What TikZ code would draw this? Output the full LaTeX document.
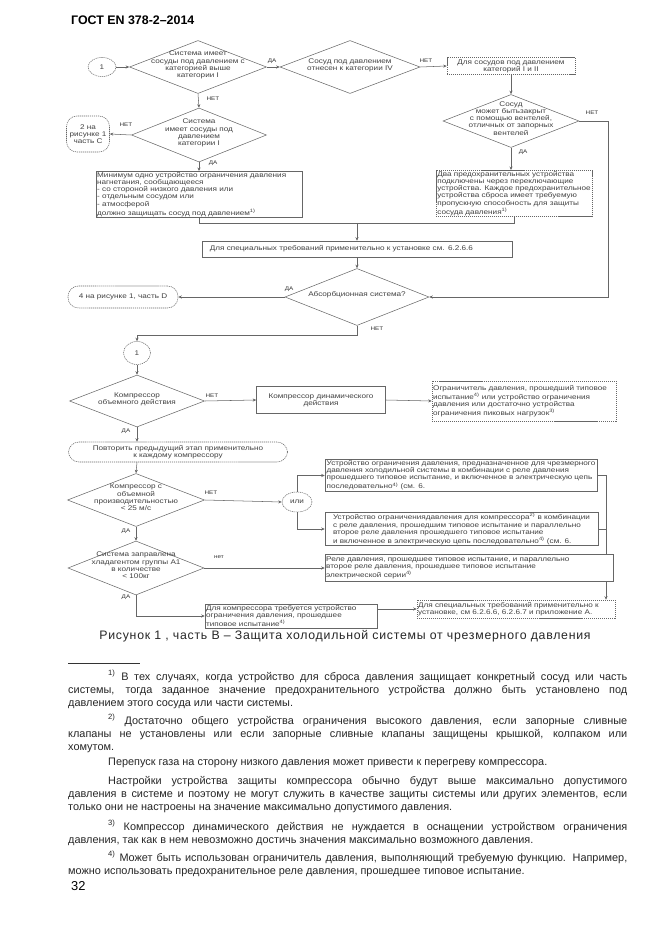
\documentclass[tikz,border=0pt]{standalone}
\usepackage{fontspec}
\setmainfont{Liberation Sans}
\newfontfamily\flowfam[FakeStretch=1.2]{Liberation Sans}
\newcommand\flowfont{\flowfam\fontsize{5.8}{6.1}\selectfont}
\newcommand\yesnofont{\flowfam\fontsize{4.5}{5}\selectfont}
\newcommand\notefont{\fontsize{9.3}{11.1}\selectfont\spaceskip=0.278em plus 0.5em minus 0.12em}
\newcommand\dtxt[1]{\smash{\makebox[0pt]{\begin{tabular}{@{}c@{}}#1\end{tabular}}}}
\usetikzlibrary{shapes.geometric,arrows.meta}

\tikzset{
  >={Stealth[length=3pt,width=2.6pt]},
  fl/.style={draw=black!60, line width=0.45pt, text=black!75, font=\flowfont},
  dsh/.style={dash pattern=on 1pt off 0.7pt},
  dia/.style 2 args={fl, diamond, aspect=2.55, inner sep=0pt, minimum width=#1*0.03cm, minimum height=#2*0.03cm},
  box/.style 2 args={fl, rectangle, inner sep=1pt, minimum width=#1*0.03cm, minimum height=#2*0.03cm, align=center},
  lbox/.style 2 args={box={#1}{#2}, align=left},
  tbox/.style 2 args={box={#1}{#2}, text width=#1*0.03cm-2pt, align=left},
  oval/.style 2 args={fl, dsh, ellipse, inner sep=0pt, minimum width=#1*0.03cm, minimum height=#2*0.03cm, align=center},
  term/.style 2 args={fl, dsh, rectangle, rounded corners=6pt, inner sep=1pt, minimum width=#1*0.03cm, minimum height=#2*0.03cm, align=center},
  con/.style={draw=black!60, line width=0.45pt, ->},
  yn/.style={font=\yesnofont, text=black!80, inner sep=0pt},
  fnote/.style={anchor=north west, inner sep=0pt, text width=16.77cm, align=justify, font=\notefont, text=black!85},
}

\begin{document}
\begin{tikzpicture}[x=0.03cm,y=-0.03cm]
\useasboundingbox (0,0) rectangle (661,935);
\node[anchor=west, font=\bfseries\fontsize{10.6}{12}\selectfont] (head) at (67,20) {ГОСТ EN 378-2–2014};

% upper part: vessels
\node[oval={28}{19}] (t1) at (102,67) {1};
\node[dia={137}{53}] (d1) at (198,67) {\dtxt{Система имеет\\сосуды под давлением с\\категорией выше\\категории I}};
\node[dia={140}{53}] (d2) at (350,67) {\dtxt{Сосуд под давлением\\отнесен к категории IV}};
\node[box={128}{17}, dsh] (b1) at (511,66) {Для сосудов под давлением\\категорий I и II};
\node[dia={136}{53}] (d3) at (511,121) {\dtxt{Сосуд\\может бытьзакрыт\\с помощью вентелей,\\отличных от запорных\\вентелей}};
\node[dia={135}{54}] (d4) at (199,135) {\dtxt{Система\\имеет сосуды под\\давлением\\категории I}};
\node[term={43}{36}, rounded corners=9pt] (t2) at (88,134) {2 на\\рисунке 1\\часть С};
\node[tbox={206}{41}] (b2) at (199,194.5) {Минимум одно устройство ограничения давления\\нагнетания, сообщающееся\\- со стороной низкого давления  или\\- отдельным сосудом  или\\- атмосферой\\должно защищать сосуд под  давлением\textsuperscript{1)}};
\node[lbox={156}{39}, dsh] (b4) at (514,193.5) {Два предохранительных устройства\\подключены через переключающие\\устройства. Каждое предохранительное\\устройства сброса имеет требуемую\\пропускную способность для защиты\\сосуда давления\textsuperscript{1)}};
\coordinate (jn) at (357,223);
\coordinate (rl1) at (608,200);
\node[tbox={310}{16}] (b3) at (357,249) {\hspace*{0.2cm}Для специальных требований применительно к установке  см. 6.2.6.6};
\node[dia={144}{57}] (d5) at (357,297) {\dtxt{Абсорбционная система?}};
\node[term={110}{22}, rounded corners=9pt] (t4) at (123,297) {4 на рисунке 1, часть D};

\draw[con] (t1) -- (d1.west);
\draw[con] (d1.east) -- (d2.west);
\draw[con] (d2.east) -- (b1.west);
\draw[con] (b1) -- (d3.north);
\draw[con] (d3.east) -- (d3.east -| rl1) |- (d5.east);
\draw[con] (d1.south) -- (d4.north);
\draw[con] (d4.west) -- (t2.east);
\draw[con] (d4.south) -- (b2.north);
\draw[con] (d3.south) -- (d3.south |- b4.north);
\draw[black!60] (b2.south) |- (jn);
\draw[black!60] (b4.south) |- (jn);
\draw[con] (jn) -- (b3.north);
\draw[con] (b3.south) -- (d5.north);
\draw[con] (d5.west) -- (t4.east);

\node[yn] (y1) at (272,61) {ДА};
\node[yn] (n1) at (426,61) {НЕТ};
\node[yn] (n2) at (213,99) {НЕТ};
\node[yn] (n3) at (126,125) {НЕТ};
\node[yn] (y2) at (213,163) {ДА};
\node[yn] (n4) at (592,113) {НЕТ};
\node[yn] (y3) at (523,152) {ДА};
\node[yn] (y4) at (289,289) {ДА};
\node[yn] (n5) at (377,329) {НЕТ};

% lower part: compressors
\node[oval={27}{23}] (c1) at (137,353) {1};
\node[dia={135}{52}] (d6) at (137,401) {\dtxt{Компрессор\\объемного  действия}};
\node[box={129}{27}] (b5) at (321,400) {Компрессор динамического\\действия};
\node[tbox={184}{40}, dsh] (b6) at (524,401) {Ограничитель давления, прошедший типовое\\испытание\textsuperscript{4)} или устройство ограничения\\давления или достаточно устройства\\ограничения пиковых нагрузок\textsuperscript{3)}};
\node[term={219}{20}, rounded corners=9pt] (b7) at (178,452) {Повторить предыдущий этап применительно\\к каждому компрессору};
\node[dia={137}{53}] (d7) at (136,500) {\dtxt{Компрессор с\\объемной\\производительностью\\< 25 м/с}};
\node[oval={30}{20}] (or) at (297,502) {или};
\node[lbox={272}{27}] (b8) at (461,475.5) {Устройство ограничения давления, предназначенное для чрезмерного\\давления холодильной системы в комбинации с реле давления\\прошедшего типовое испытание, и включенное в электрическую цепь\\последовательно\textsuperscript{4)}  (см. 6.};
\node[lbox={273}{28}] (b9) at (461.5,529) {Устройство ограничениядавления для компрессора\textsuperscript{2)} в комбинации\\с реле давления,  прошедшим типовое испытание  и параллельно\\второе реле давления прошедшего типовое испытание\\и включенное в электрическую цепь последовательно\textsuperscript{4)}  (см. 6.};
\node[tbox={198}{18}, dsh] (b12) at (516,609) {Для специальных требований применительно к\\установке, см 6.2.6.6, 6.2.6.7 и приложение А.};
\coordinate (rl2) at (606,540);
\draw[con] (b8.east) -- (b8.east -| rl2) -- (rl2 |- b12.north);
\draw[black!60] (b9.east) -- (b9.east -| rl2);
\node[dia={136}{54}] (d8) at (136,568) {\dtxt{Система заправлена\\хладагентом группы А1\\в количестве\\< 100кг}};
\node[tbox={288}{27}, fill=white] (b10) at (469,568) {Реле давления, прошедшее типовое  испытание, и параллельно\\второе реле давления, прошедшее типовое испытание\\электрической серии\textsuperscript{4)}};
\node[tbox={172}{24}] (b11) at (291,616) {Для компрессора требуется устройство\\ограничения давления, прошедшее\\типовое испытание\textsuperscript{4)}};

\draw[con] (d5.south) -- ++(0,9) -| (c1.north);
\draw[con] (c1.south) -- (d6.north);
\draw[con] (d6.east) -- (b5.west);
\draw[con] (b5.east) -- (b6.west);
\draw[con] (d6.south) -- (d6.south |- b7.north);
\draw[con] (d6.south |- b7.south) -- (d7.north);
\draw[con] (d7.east) -- (or.west);
\draw[con] (or.north) |- (b8.west);
\draw[con] (or.south) |- (b9.west);
\draw[con] (d7.south) -- (d8.north);
\draw[con] (d8.east) -- (b10.west);
\draw[con] (d8.south) |- (b11.west);
\draw[con] (b11.east |- b12.west) -- (b12.west);

\node[yn] (n6) at (212,396) {НЕТ};
\node[yn] (y5) at (126,431) {ДА};
\node[yn] (n7) at (211,493) {НЕТ};
\node[yn] (y6) at (126,531) {ДА};
\node[yn] (n8) at (219,557) {нет};
\node[yn] (y7) at (126,597) {ДА};

% caption and notes
\node[font=\fontsize{10.5}{12}\selectfont\addfontfeatures{LetterSpace=6}, text=black!85] (cap) at (345,636) {Рисунок 1 , часть В – Защита холодильной системы от чрезмерного давления};
\draw[black!80] (68,663) -- (140,663);
\node[fnote] (fn1) at (68,670) {\hspace*{1.2cm}\textsuperscript{1)} В тех случаях, когда устройство для сброса давления защищает конкретный сосуд или часть\linebreak системы, тогда заданное значение предохранительного устройства должно быть установлено под\linebreak давлением этого сосуда или части системы.};
\node[fnote] (fn2) at (68,714) {\hspace*{1.2cm}\textsuperscript{2)} Достаточно общего устройства ограничения высокого давления, если запорные сливные\linebreak клапаны не установлены или если запорные сливные клапаны защищены крышкой, колпаком или\linebreak хомутом.};
\node[fnote] (fn3) at (68,758) {\hspace*{1.2cm}Перепуск газа на сторону низкого давления может привести к перегреву компрессора.};
\node[fnote] (fn4) at (68,776) {\hspace*{1.2cm}Настройки устройства защиты компрессора обычно будут выше максимально допустимого\linebreak давления в системе и поэтому не могут служить в качестве защиты системы или других элементов, если\linebreak только они не настроены на значение максимально допустимого давления.};
\node[fnote] (fn5) at (68,820) {\hspace*{1.2cm}\textsuperscript{3)} Компрессор динамического действия не нуждается в оснащении устройством ограничения\linebreak давления, так как в нем невозможно достичь значения максимально возможного давления.};
\node[fnote] (fn6) at (68,851) {\hspace*{1.2cm}\textsuperscript{4)} Может быть использован ограничитель давления, выполняющий требуемую функцию. Например,\linebreak можно использовать предохранительное реле давления, прошедшее типовое испытание.};
\node[anchor=west, font=\fontsize{11}{13}\selectfont] (pg) at (67,886) {32};
\end{tikzpicture}
\end{document}
